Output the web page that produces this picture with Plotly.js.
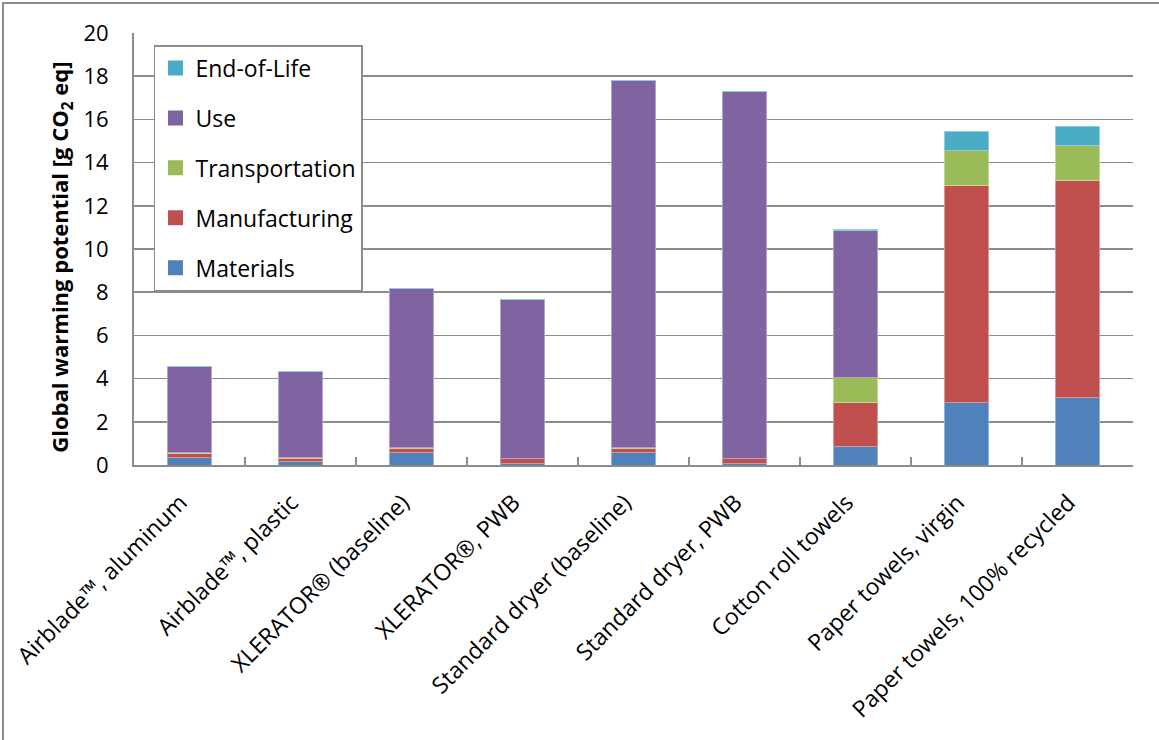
<!DOCTYPE html>
<html>
<head>
<meta charset="utf-8">
<script src="https://cdn.plot.ly/plotly-3.0.1.min.js"></script>
<style>
  html, body { margin: 0; padding: 0; background: #fff; }
  #wrap { position: relative; width: 1159px; height: 740px; overflow: hidden; }
  #frame { position: absolute; left: 2px; top: 2px; width: 1170px; height: 760px; border-left: 2px solid #8c8c8c; border-top: 2px solid #8c8c8c; pointer-events: none; z-index: 5; }
  #chart { position: absolute; left: 0; top: 0; width: 1159px; height: 740px; }
</style>
</head>
<body>
<div id="wrap">
  <div id="chart"></div>
  <div id="frame"></div>
</div>
<script>
const categories = [
  "Airblade™, aluminum",
  "Airblade™, plastic",
  "XLERATOR® (baseline)",
  "XLERATOR®, PWB",
  "Standard dryer (baseline)",
  "Standard dryer, PWB",
  "Cotton roll towels",
  "Paper towels, virgin",
  "Paper towels, 100% recycled"
];
const materials      = [0.37, 0.15, 0.57, 0.09, 0.57, 0.09, 0.85, 2.91, 3.13];
const manufacturing  = [0.17, 0.13, 0.18, 0.19, 0.18, 0.19, 2.03, 10.01, 10.03];
const transportation = [0.03, 0.05, 0.05, 0.03, 0.05, 0.03, 1.17, 1.66, 1.63];
const use            = [3.97, 4.00, 7.35, 7.34, 17.00, 16.99, 6.80, 0.00, 0.00];
const endOfLife      = [0.04, 0.02, 0.00, 0.00, 0.00, 0.00, 0.05, 0.85, 0.87];
const yTicks = [0, 2, 4, 6, 8, 10, 12, 14, 16, 18, 20];
const yTitle = "<b>Global warming potential [g CO<sub>2</sub> eq]</b>";

const seriesNames = ["Materials", "Manufacturing", "Transportation", "Use", "End-of-Life"];
const seriesData = [materials, manufacturing, transportation, use, endOfLife];
const seriesColors = ["#4F81BD", "#C0504D", "#9BBB59", "#8064A2", "#4BACC6"];
const seriesEdge = ["#95B3D7", "#D99694", "#C3D69B", "#B3A2C7", "#93CDDD"];

const FONT = "Open Sans, Liberation Sans, sans-serif";
const FS = 23;

const barTraces = seriesNames.map((n, i) => ({
  type: "bar",
  name: n,
  x: categories,
  y: seriesData[i],
  width: 0.4,
  showlegend: false,
  marker: { color: seriesColors[i], line: { color: seriesEdge[i], width: 1 } },
  hoverinfo: "x+y+name"
}));

// legend-only entries (square swatches), top-to-bottom: End-of-Life ... Materials
const legendTraces = seriesNames.map((n, i) => ({
  type: "scatter",
  mode: "markers",
  name: n,
  x: [null],
  y: [null],
  legendgroup: n,
  legendrank: 100 - i,
  marker: { symbol: "square", size: 15, color: seriesColors[i] },
  hoverinfo: "skip"
}));

const layout = {
  width: 1159,
  height: 740,
  barmode: "stack",
  paper_bgcolor: "rgba(0,0,0,0)",
  plot_bgcolor: "#fff",
  margin: { l: 134, r: 26, t: 33, b: 275, pad: 0 },
  font: { family: FONT, size: FS, color: "#000" },
  showlegend: true,
  legend: {
    x: 0.02, xanchor: "left",
    y: 0.972, yanchor: "top",
    bgcolor: "#fff",
    bordercolor: "#8c8c8c",
    borderwidth: 1.5,
    traceorder: "grouped",
    tracegroupgap: 17,
    font: { family: FONT, size: FS, color: "#000" },
    itemwidth: 30
  },
  xaxis: {
    type: "category",
    tickangle: -45,
    tickson: "boundaries",
    ticks: "inside",
    ticklen: 8,
    tickcolor: "#8c8c8c",
    tickwidth: 2,
    showline: true,
    linecolor: "#8c8c8c",
    linewidth: 2,
    showgrid: false,
    ticklabelstandoff: 13,
    ticklabelshift: -9,
    tickfont: { family: FONT, size: FS, color: "#000" },
    automargin: false
  },
  yaxis: {
    range: [0, 20],
    tickvals: yTicks,
    ticktext: yTicks.map(String),
    showline: true,
    linecolor: "#8c8c8c",
    linewidth: 2,
    showgrid: true,
    gridcolor: "#8c8c8c",
    gridwidth: 1.5,
    zeroline: false,
    ticks: "",
    ticklabelstandoff: 19,
    tickfont: { family: FONT, size: 22, color: "#000" },
    automargin: false
  },
  annotations: [{
    text: yTitle,
    textangle: -90,
    xref: "paper", yref: "paper",
    x: -0.073, y: 0.48,
    xanchor: "center", yanchor: "middle",
    showarrow: false,
    font: { family: FONT, size: 22, color: "#000" }
  }]
};

Plotly.newPlot("chart", barTraces.concat(legendTraces), layout, { displayModeBar: false, staticPlot: true });
</script>
</body>
</html>
